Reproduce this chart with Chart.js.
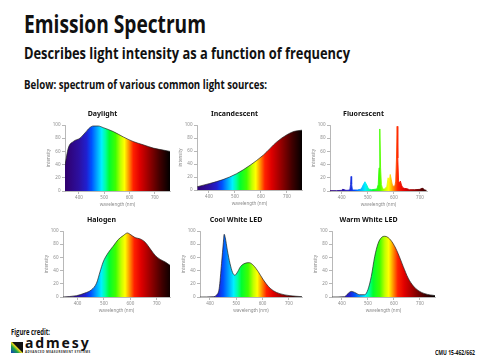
<!DOCTYPE html>
<html>
<head>
<meta charset="utf-8">
<script src="https://cdn.jsdelivr.net/npm/chart.js@4.4.0/dist/chart.umd.min.js"></script>
<style>
body{margin:0;width:480px;height:360px;background:#fff;position:relative;overflow:hidden;
  font-family:"Open Sans",sans-serif;}
.t{position:absolute;font-weight:bold;color:#111;white-space:nowrap;line-height:1;transform-origin:0 0;}
canvas{position:absolute;}
#logoIcon{position:absolute;left:11px;top:342px;width:12px;height:11px;
  background:linear-gradient(45deg,#1238c8 0%,#18a048 32%,#e6d81c 48%,#111 56%,#111 100%);}
#logoText{position:absolute;left:25px;top:336px;font:bold 14px "Noto Sans",sans-serif;letter-spacing:1.9px;line-height:1;color:#111;}
#logoSub{position:absolute;left:25px;top:350.5px;font:bold 3px "Noto Sans",sans-serif;letter-spacing:0.42px;line-height:1;color:#333;white-space:nowrap;}
</style>
</head>
<body>
<div class="t" data-w="182" style="left:24px;top:10.5px;font-size:25px">Emission Spectrum</div>
<div class="t" data-w="326" style="left:24px;top:45px;font-size:16px">Describes light intensity as a function of frequency</div>
<div class="t" data-w="243" style="left:24px;top:79px;font-size:11.5px">Below: spectrum of various common light sources:</div>

<canvas id="cDaylight"></canvas>
<canvas id="cIncand"></canvas>
<canvas id="cFluor"></canvas>
<canvas id="cHalogen"></canvas>
<canvas id="cCool"></canvas>
<canvas id="cWarm"></canvas>

<div class="t" data-w="39" style="left:11px;top:328px;font-size:8.5px">Figure credit:</div>
<div id="logoIcon"></div>
<div id="logoText">admesy</div>
<div id="logoSub">ADVANCED MEASUREMENT SYSTEMS</div>
<div class="t" data-w="40" style="left:435px;top:349px;font-size:7px">CMU 15-462/662</div>

<script>
// ===== Data (wavelength in nm, intensity in %) =====
const yTicks = [0, 20, 40, 60, 80, 100];
const xTicks = [400, 500, 600, 700];

const daylightNm  = [345, 358, 378, 404, 424, 443, 457, 476, 496, 536, 575, 614, 654, 694, 733, 760];
const daylightVal = [39, 65, 75, 80, 88, 96, 98.5, 98.5, 96, 90, 82, 75, 70, 65, 62, 60];

const incandNm  = [355, 403, 454, 506, 558, 610, 661, 700, 726, 758];
const incandVal = [5, 10, 16, 25, 38, 54, 74, 85, 90, 92];

const fluorNm  = [355, 380, 400, 403, 405, 408, 420, 431, 434, 436, 438, 441, 460, 475, 482, 489, 496, 503, 515, 535, 540, 543, 546, 549, 552, 557, 565, 573, 578, 582, 586, 590, 594, 600, 604, 607, 610, 612.5, 615, 618, 621, 625, 629, 634, 640, 650, 660, 680, 700, 707, 712, 717, 725];
const fluorVal = [0.5, 0.5, 1, 2.5, 3, 1.5, 1, 1.5, 10, 22, 10, 1.5, 1.5, 3, 9, 14, 9, 3, 2, 3, 10, 35, 94, 35, 10, 3, 3, 7, 20, 14, 25, 17, 9, 7, 8, 15, 50, 98, 50, 15, 12, 15, 9, 5, 4, 3.5, 2, 2, 2.5, 4, 4, 1.5, 1];

const halogenNm  = [345, 396, 428, 453, 472, 485, 497, 516, 535, 554, 573, 589, 599, 618, 637, 656, 675, 694, 713, 732, 750];
const halogenVal = [0, 2, 6, 11, 21, 38, 53, 67, 77, 87, 93, 97, 95, 90, 88, 83, 73, 63, 57, 53, 48];

const coolNm  = [360, 413, 425, 435, 444, 451, 454, 458, 466, 476, 486, 495, 505, 516, 533, 549, 565, 584, 603, 622, 641, 666, 704, 750];
const coolVal = [0, 0.5, 3, 13, 51, 83, 95, 90, 71, 51, 37, 33, 38, 46, 51, 52, 48, 38, 26, 16, 9.5, 5, 2, 0.5];

const warmNm  = [360, 410, 423, 436, 449, 468, 488, 500, 513, 526, 539, 552, 565, 578, 597, 616, 636, 655, 674, 693, 719, 760];
const warmVal = [0, 0.5, 5, 8.5, 7, 3.5, 3.5, 11, 31, 61, 81, 90, 92, 90, 81, 66, 46, 28.5, 17, 10, 5, 2];

// visible spectrum colour stops
const specNm    = [350, 400, 430, 450, 470, 490, 505, 520, 545, 565, 580, 595, 615, 640, 680, 720, 760];
const specColor = ['#300070','#2c10a0','#2020d0','#0050ff','#00a0ff','#00f0ff','#00ffa0','#00ff30','#40ff00','#c0ff00','#ffff00','#ffa000','#ff2000','#e00000','#900000','#400000','#000000'];

// fit slide headings to the widths measured on the reference
document.querySelectorAll('.t[data-w]').forEach(el=>{
  const w = el.getBoundingClientRect().width;
  el.style.transform = `scaleX(${Number(el.dataset.w)/w})`;
});

// ===== Helpers =====
const AXIS = '#9a9a9a', TXT = '#8a8a8a';

function spectrumFill(c){
  const chart = c.chart;
  if(!chart.chartArea) return 'transparent';
  const x = chart.scales.x;
  const n0 = specNm[0], n1 = specNm[specNm.length-1];
  const g = chart.ctx.createLinearGradient(x.getPixelForValue(n0), 0, x.getPixelForValue(n1), 0);
  specNm.forEach((nm,i)=>g.addColorStop((nm-n0)/(n1-n0), specColor[i]));
  return g;
}

// box = plot area [left, top, right, bottom] on the page
function makeChart(id, box, title, nm, val, xMin, xMax, smooth){
  const cv = document.getElementById(id);
  const [l,t,r,b] = box;
  cv.width = r - l + 35;
  cv.height = b - t + 40;
  cv.style.left = (l-30)+'px';
  cv.style.top = (t-21)+'px';

  return new Chart(cv, {
    type: 'line',
    data: { datasets: [{
      data: nm.map((x,i)=>({x, y: val[i]})),
      fill: 'origin',
      backgroundColor: spectrumFill,
      // spiky spectrum: colour the outline too so narrow lines keep their hue
      borderColor: smooth ? 'rgba(30,30,30,0.85)' : spectrumFill,
      borderWidth: smooth ? 0.8 : 0.9,
      pointRadius: 0,
      tension: smooth ? 0.4 : 0,
      cubicInterpolationMode: smooth ? 'monotone' : 'default'
    }]},
    options: {
      responsive: false,
      animation: false,
      layout: { padding: { right: 5 } },
      plugins: {
        legend: { display: false },
        tooltip: { enabled: false },
        title: { display: true, text: title, color: '#111',
          font: { family: 'Noto Sans', size: 7, weight: 'bold', lineHeight: 1.25 },
          padding: { top: 5.25, bottom: 7 } }
      },
      scales: {
        x: {
          type: 'linear', min: xMin, max: xMax,
          afterFit: s => { s.height = 19; },
          afterBuildTicks: s => { s.ticks = xTicks.map(v=>({value:v})); },
          grid: { drawOnChartArea: false, tickLength: 3, color: AXIS, lineWidth: 0.7 },
          border: { color: AXIS, width: 0.7 },
          ticks: { color: TXT, padding: 1, maxRotation: 0, font: { family: 'Noto Sans', size: 4.5 } },
          title: { display: true, text: 'wavelength (nm)', color: TXT, padding: { bottom: 3 },
            font: { family: 'Noto Sans', size: 4.5, lineHeight: 1.2 } }
        },
        y: {
          min: 0, max: 100,
          afterFit: s => { s.width = 30; },
          afterBuildTicks: s => { s.ticks = yTicks.map(v=>({value:v})); },
          grid: { drawOnChartArea: false, tickLength: 3, color: AXIS, lineWidth: 0.7 },
          border: { color: AXIS, width: 0.7 },
          ticks: { color: TXT, padding: 1.5, font: { family: 'Noto Sans', size: 4.5 } },
          title: { display: true, text: 'intensity', color: TXT, padding: { top: 11 },
            font: { family: 'Noto Sans', size: 4.5, lineHeight: 1.2 } }
        }
      }
    }
  });
}

makeChart('cDaylight', [65, 125, 170, 191], 'Daylight',        daylightNm, daylightVal, 345, 760, true);
makeChart('cIncand',   [197, 125, 302, 190], 'Incandescent',   incandNm,   incandVal,   354, 758, true);
makeChart('cFluor',    [330, 125, 427, 191], 'Fluorescent',    fluorNm,    fluorVal,    355, 727, false);
makeChart('cHalogen',  [63, 231, 170, 297],  'Halogen',        halogenNm,  halogenVal,  345, 750, true);
makeChart('cCool',     [200, 231, 302, 297], 'Cool White LED', coolNm,     coolVal,     362, 750, true);
makeChart('cWarm',     [332, 231, 435, 297], 'Warm White LED', warmNm,     warmVal,     362, 758, true);
</script>
</body>
</html>
